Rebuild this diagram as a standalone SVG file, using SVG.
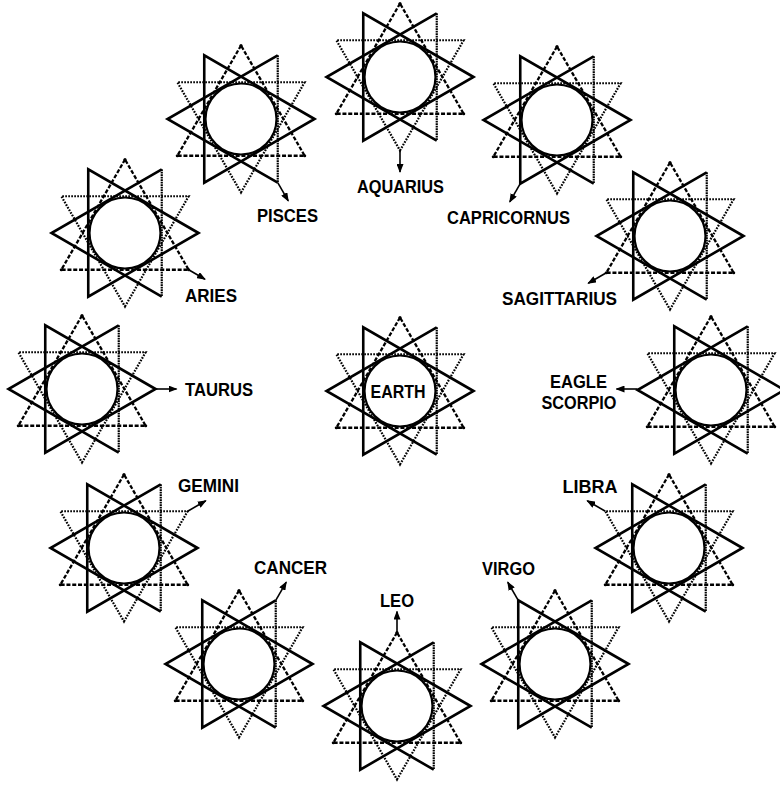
<svg xmlns="http://www.w3.org/2000/svg" xmlns:xlink="http://www.w3.org/1999/xlink" width="780" height="787" viewBox="0 0 780 787">
<style>
.bg{fill:#fff}
.solid{fill:none;stroke:#000;stroke-width:2.6;stroke-linejoin:miter}
.rv{fill:none;stroke:#000;stroke-width:2.2;stroke-dasharray:1.6 0.9}
.dash{fill:none;stroke:#000;stroke-width:2.3;stroke-dasharray:4 1.8;stroke-linejoin:round}
.dot{fill:none;stroke:#000;stroke-width:2.2;stroke-dasharray:1.7 1.3}
.ring{fill:#fff;stroke:#000;stroke-width:2.2}
.lbl{font-family:"Liberation Sans",Arial,sans-serif;font-weight:bold;font-size:18px;fill:#000}
.arr{stroke:#000;stroke-width:1.6;fill:none}
</style>
<defs>
<marker id="ah" markerUnits="userSpaceOnUse" markerWidth="9" markerHeight="7" refX="8" refY="3.5" orient="auto">
<path d="M0,0 L9,3.5 L0,7 z" fill="#000"/>
</marker>
<g id="fig">
<circle class="ring" cx="0" cy="0" r="35.5"/>
<polygon class="dash" points="0,-73.5 -63.65,36.75 63.65,36.75"/>
<polygon class="dot" points="0,73.5 63.65,-36.75 -63.65,-36.75"/>
<polygon class="solid" points="73.5,0 -36.75,-63.65 -36.75,63.65"/>
<polyline class="solid" points="36.75,63.65 -73.5,0 36.75,-63.65"/>
<line class="rv" x1="36.75" y1="-63.65" x2="36.75" y2="63.65"/>
<circle cx="0" cy="-73.5" r="1.6"/>
<circle cx="-63.65" cy="36.75" r="1.6"/>
<circle cx="63.65" cy="36.75" r="1.6"/>
</g>
</defs>
<rect class="bg" x="0" y="0" width="780" height="787"/>

<g id="earth">
<use xlink:href="#fig" href="#fig" x="400" y="391"/>
<text class="lbl" x="398" y="398" text-anchor="middle" textLength="55" lengthAdjust="spacingAndGlyphs">EARTH</text>
</g>
<g id="aquarius">
<use xlink:href="#fig" href="#fig" x="400" y="77"/>
<text class="lbl" x="400.5" y="193" text-anchor="middle" textLength="87" lengthAdjust="spacingAndGlyphs">AQUARIUS</text>
</g>
<g id="capricornus">
<use xlink:href="#fig" href="#fig" x="557" y="120"/>
<text class="lbl" x="508.5" y="224" text-anchor="middle" textLength="123" lengthAdjust="spacingAndGlyphs">CAPRICORNUS</text>
</g>
<g id="sagittarius">
<use xlink:href="#fig" href="#fig" x="670" y="236"/>
<text class="lbl" x="559.5" y="305" text-anchor="middle" textLength="115" lengthAdjust="spacingAndGlyphs">SAGITTARIUS</text>
</g>
<g id="eagle-scorpio">
<use xlink:href="#fig" href="#fig" x="711" y="390"/>
<text class="lbl" x="578.5" y="388" text-anchor="middle" textLength="57" lengthAdjust="spacingAndGlyphs">EAGLE</text>
<text class="lbl" x="579" y="409" text-anchor="middle" textLength="75" lengthAdjust="spacingAndGlyphs">SCORPIO</text>
</g>
<g id="libra">
<use xlink:href="#fig" href="#fig" x="669" y="548"/>
<text class="lbl" x="590" y="493" text-anchor="middle" textLength="55" lengthAdjust="spacingAndGlyphs">LIBRA</text>
</g>
<g id="virgo">
<use xlink:href="#fig" href="#fig" x="555" y="664"/>
<text class="lbl" x="508.5" y="575" text-anchor="middle" textLength="53" lengthAdjust="spacingAndGlyphs">VIRGO</text>
</g>
<g id="leo">
<use xlink:href="#fig" href="#fig" x="397" y="706"/>
<text class="lbl" x="397" y="607" text-anchor="middle" textLength="34" lengthAdjust="spacingAndGlyphs">LEO</text>
</g>
<g id="cancer">
<use xlink:href="#fig" href="#fig" x="239" y="664"/>
<text class="lbl" x="290.5" y="574" text-anchor="middle" textLength="73" lengthAdjust="spacingAndGlyphs">CANCER</text>
</g>
<g id="gemini">
<use xlink:href="#fig" href="#fig" x="124" y="548"/>
<text class="lbl" x="208.5" y="492" text-anchor="middle" textLength="61" lengthAdjust="spacingAndGlyphs">GEMINI</text>
</g>
<g id="taurus">
<use xlink:href="#fig" href="#fig" x="82" y="389"/>
<text class="lbl" x="185" y="396" textLength="68" lengthAdjust="spacingAndGlyphs">TAURUS</text>
</g>
<g id="aries">
<use xlink:href="#fig" href="#fig" x="125" y="233"/>
<text class="lbl" x="211" y="302" text-anchor="middle" textLength="52" lengthAdjust="spacingAndGlyphs">ARIES</text>
</g>
<g id="pisces">
<use xlink:href="#fig" href="#fig" x="241" y="119"/>
<text class="lbl" x="287.5" y="222" text-anchor="middle" textLength="61" lengthAdjust="spacingAndGlyphs">PISCES</text>
</g>

<g id="connectors">
<line class="arr" marker-end="url(#ah)" x1="400" y1="150.5" x2="400" y2="172"/>
<line class="arr" marker-end="url(#ah)" x1="520.25" y1="183.65" x2="509.75" y2="201.8"/>
<line class="arr" marker-end="url(#ah)" x1="606.35" y1="272.75" x2="588.2" y2="283.25"/>
<line class="arr" marker-end="url(#ah)" x1="637.5" y1="389" x2="616.5" y2="389"/>
<line class="arr" marker-end="url(#ah)" x1="605.35" y1="511.25" x2="587.2" y2="500.75"/>
<line class="arr" marker-end="url(#ah)" x1="518.25" y1="600.35" x2="507.75" y2="582.2"/>
<line class="arr" marker-end="url(#ah)" x1="397" y1="632.5" x2="397" y2="611.5"/>
<line class="arr" marker-end="url(#ah)" x1="275.75" y1="600.35" x2="286.25" y2="582.2"/>
<line class="arr" marker-end="url(#ah)" x1="187.65" y1="511.25" x2="205.8" y2="500.75"/>
<line class="arr" marker-end="url(#ah)" x1="155.5" y1="389" x2="176.5" y2="389"/>
<line class="arr" marker-end="url(#ah)" x1="188.65" y1="269.75" x2="205" y2="279.2"/>
<line class="arr" marker-end="url(#ah)" x1="277.75" y1="182.65" x2="288.25" y2="200.8"/>
</g>
</svg>
